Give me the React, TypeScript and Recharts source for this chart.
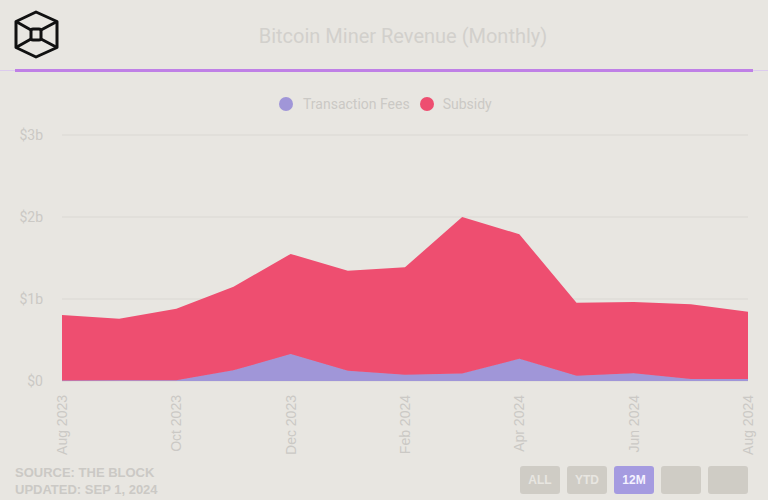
import React from "react"
import {
  AreaChart,
  Area,
  XAxis,
  YAxis,
  CartesianGrid,
} from "recharts"

const months = [
  "Aug 2023", "Sep 2023", "Oct 2023", "Nov 2023", "Dec 2023", "Jan 2024", "Feb 2024",
  "Mar 2024", "Apr 2024", "May 2024", "Jun 2024", "Jul 2024", "Aug 2024",
]
// billions of USD
const transactionFees = [0.005, 0.01, 0.01, 0.13, 0.33, 0.125, 0.077, 0.09, 0.27, 0.065, 0.094, 0.025, 0.025]
const subsidy = [0.8, 0.75, 0.87, 1.02, 1.22, 1.22, 1.31, 1.91, 1.52, 0.89, 0.87, 0.91, 0.82]
const yTicks = [0, 1, 2, 3]
const buttons = ["ALL", "YTD", "12M", "", ""]

const data = months.map((m, i) => ({
  month: m,
  fees: transactionFees[i],
  subsidy: subsidy[i],
}))

const BG = "#e8e6e1"
const RED = "#ee4e70"
const PURPLE = "#a096d8"
const TEXT = "#cbc9c5"

const XTick = (props: any) => {
  const { x, y, payload } = props
  return (
    <text
      x={x}
      y={y}
      transform={`rotate(-90 ${x} ${y})`}
      textAnchor="end"
      dominantBaseline="central"
      fill={TEXT}
      fontSize={14}
      fontFamily="'Liberation Sans', Arial, sans-serif"
    >
      {payload.value}
    </text>
  )
}

function Logo() {
  return (
    <svg width={70} height={70} style={{ position: "absolute", left: 0, top: 0 }}>
      <g fill="none" stroke="#111" strokeWidth={3} strokeLinejoin="round">
        <path d="M36 12 L57 21.5 L57 47.5 L36 57 L16 47.5 L16 21.5 Z" />
        <rect x={31} y={29} width={10} height={11} rx={2} />
        <path d="M16 21.5 L31 30 M57 21.5 L41 30 M16 47.5 L31 39 M57 47.5 L41 39" />
      </g>
    </svg>
  )
}

export default function App() {
  return (
    <div
      style={{
        position: "absolute",
        left: 0,
        top: 0,
        width: 768,
        height: 500,
        background: BG,
        overflow: "hidden",
        fontFamily: "Roboto, sans-serif",
      }}
    >
      <Logo />
      <div
        style={{
          position: "absolute",
          top: 24,
          left: 38,
          width: 730,
          textAlign: "center",
          fontSize: 20,
          color: "#d2d0cc",
        }}
      >
        Bitcoin Miner Revenue (Monthly)
      </div>
      <div style={{ position: "absolute", top: 70, left: 0, width: 768, height: 1, background: "#dccbee" }} />
      <div style={{ position: "absolute", top: 69, left: 15, width: 738, height: 3, background: "#bf80e6" }} />

      <div
        style={{
          position: "absolute",
          top: 96,
          left: 279,
          display: "flex",
          alignItems: "center",
          fontSize: 14,
          color: TEXT,
          whiteSpace: "nowrap",
        }}
      >
        <span style={{ width: 14, height: 14, borderRadius: 7, background: PURPLE, display: "inline-block", marginRight: 10 }} />
        <span style={{ marginRight: 10 }}>Transaction Fees</span>
        <span style={{ width: 14, height: 14, borderRadius: 7, background: RED, display: "inline-block", marginRight: 9 }} />
        <span>Subsidy</span>
      </div>

      <div style={{ position: "absolute", top: 0, left: 0 }}>
        <AreaChart
          width={768}
          height={500}
          data={data}
          margin={{ top: 135, right: 20, bottom: 49, left: 0 }}
        >
          <CartesianGrid vertical={false} stroke="#dad8d3" strokeWidth={1} />
          <XAxis
            dataKey="month"
            interval={1}
            tick={<XTick />}
            tickLine={false}
            axisLine={false}
            tickSize={0}
            tickMargin={14}
            height={70}
          />
          <YAxis
            domain={[0, 3]}
            ticks={yTicks}
            tickFormatter={(v: number) => (v === 0 ? "$0" : `$${v}b`)}
            tick={{ fill: TEXT, fontSize: 14, fontFamily: "Roboto, sans-serif" }}
            tickLine={false}
            axisLine={false}
            tickSize={0}
            tickMargin={19}
            width={62}
          />
          <Area
            type="linear"
            dataKey="fees"
            stackId="1"
            stroke={PURPLE}
            strokeWidth={1}
            fill={PURPLE}
            fillOpacity={1}
            isAnimationActive={false}
          />
          <Area
            type="linear"
            dataKey="subsidy"
            stackId="1"
            stroke="none"
            fill={RED}
            fillOpacity={1}
            isAnimationActive={false}
          />
        </AreaChart>
      </div>

      <div
        style={{
          position: "absolute",
          left: 15,
          top: 464,
          fontFamily: "'Liberation Sans', Arial, sans-serif",
          fontWeight: "bold",
          fontSize: 13,
          lineHeight: "17px",
          color: TEXT,
        }}
      >
        <div>SOURCE: THE BLOCK</div>
        <div>UPDATED: SEP 1, 2024</div>
      </div>

      <div style={{ position: "absolute", left: 520, top: 466, display: "flex", gap: 7 }}>
        {buttons.map((b, i) => (
          <div
            key={i}
            style={{
              width: 40,
              height: 28,
              borderRadius: 3,
              background: b === "12M" ? "#a59be0" : "#cfccc5",
              color: b === "12M" ? "#f4f2ff" : "#e8e6e1",
              fontFamily: "'Liberation Sans Narrow', 'Liberation Sans', sans-serif",
              fontWeight: "bold",
              fontSize: 12,
              display: "flex",
              alignItems: "center",
              justifyContent: "center",
            }}
          >
            {b}
          </div>
        ))}
      </div>
    </div>
  )
}
